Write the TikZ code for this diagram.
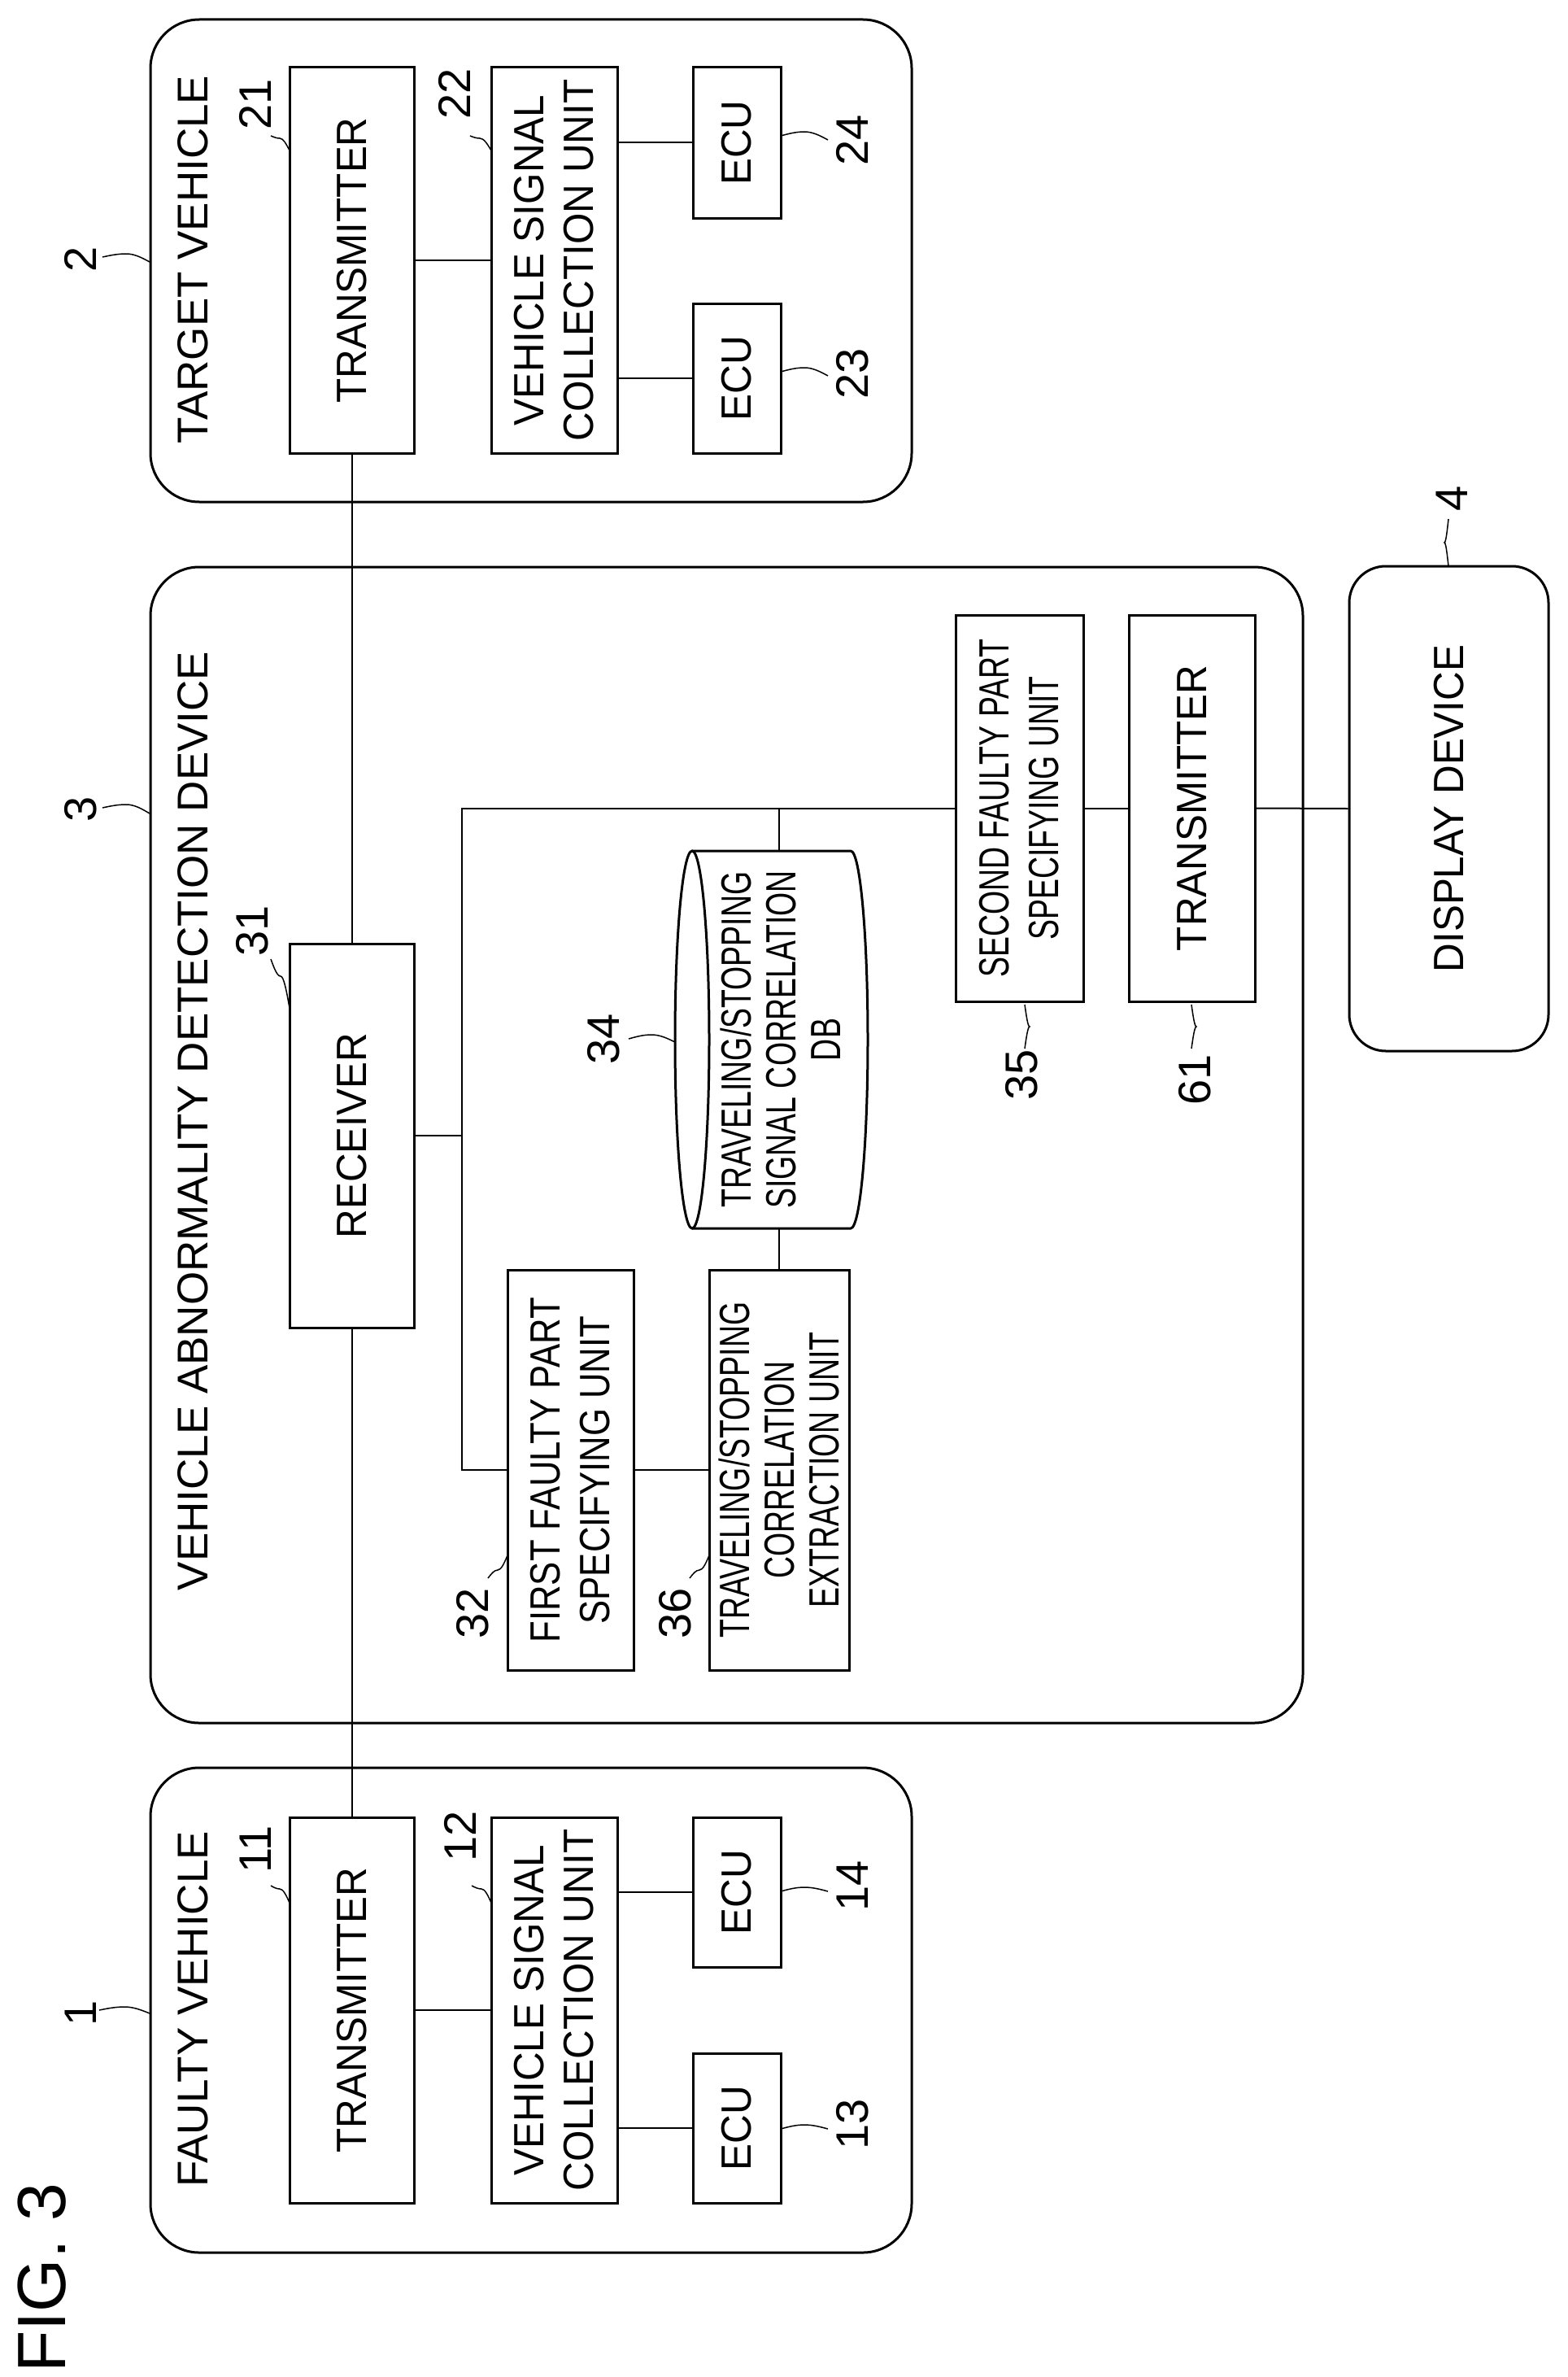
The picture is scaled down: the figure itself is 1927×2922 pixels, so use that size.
\documentclass[tikz,border=0pt]{standalone}
\usepackage{fontspec}
\setmainfont{Liberation Sans}
\newfontfamily\fA[FakeStretch=0.95]{Liberation Sans}
\newfontfamily\fB[FakeStretch=0.84]{Liberation Sans}
\newfontfamily\fC[FakeStretch=0.72]{Liberation Sans}
\begin{document}
\begin{tikzpicture}[x=1pt,y=-1pt,
  box/.style={draw,line width=3pt,rotate=90,align=center,inner sep=0pt,font=\fontsize{52}{61}\fA},
  outer/.style={draw,line width=3pt,rounded corners=60pt,inner sep=0pt},
  lbl/.style={rotate=90,inner sep=0pt,font=\fontsize{53}{60}\selectfont},
  num/.style={rotate=90,inner sep=0pt,font=\fontsize{56}{60}\selectfont},
  ln/.style={line width=2pt},
  ld/.style={line width=1.5pt}]
\useasboundingbox (0,0) rectangle (1927,2922);
% outer boxes
\node[outer,minimum width=936pt,minimum height=593pt] (tv) at (653,320.5) {};
\node[outer,minimum width=1417pt,minimum height=1421pt] (dev) at (893.5,1407.5) {};
\node[outer,minimum width=936pt,minimum height=596pt] (fv) at (653,2471) {};
\node[box,rounded corners=45pt,minimum width=596pt,minimum height=245pt] (disp) at (1781.5,994) {DISPLAY DEVICE};
% outer labels
\node[lbl] (ltv) at (237,319) {TARGET VEHICLE};
\node[lbl] (ldev) at (237,1378) {VEHICLE ABNORMALITY DETECTION DEVICE};
\node[lbl] (lfv) at (237,2470) {FAULTY VEHICLE};
\node[rotate=90,inner sep=0pt,font=\fontsize{84}{90}\selectfont] (fig) at (52,2800) {FIG. 3};
% target vehicle
\node[box,minimum width=474pt,minimum height=153pt] (t21) at (432.5,320) {TRANSMITTER};
\node[box,minimum width=474pt,minimum height=155pt] (v22) at (681.5,320) {VEHICLE SIGNAL\\COLLECTION UNIT};
\node[box,minimum width=185pt,minimum height=108pt] (e24) at (906,175.5) {ECU};
\node[box,minimum width=184pt,minimum height=108pt] (e23) at (906,465) {ECU};
% faulty vehicle
\node[box,minimum width=474pt,minimum height=153pt] (t11) at (432.5,2471) {TRANSMITTER};
\node[box,minimum width=474pt,minimum height=155pt] (v12) at (681.5,2471) {VEHICLE SIGNAL\\COLLECTION UNIT};
\node[box,minimum width=184pt,minimum height=108pt] (e14) at (906,2326) {ECU};
\node[box,minimum width=184pt,minimum height=108pt] (e13) at (906,2616) {ECU};
% device
\node[box,minimum width=472pt,minimum height=153pt] (rcv) at (432.5,1396) {RECEIVER};
\node[box,minimum width=492pt,minimum height=155pt,font=\fontsize{52}{61}\fB] (f32) at (701.5,1807) {FIRST FAULTY PART\\SPECIFYING UNIT};
\node[box,minimum width=492pt,minimum height=172pt,font=\fontsize{52}{55}\fC] (e36) at (958,1807) {TRAVELING/STOPPING\\CORRELATION\\EXTRACTION UNIT};
\node[box,minimum width=475pt,minimum height=157pt,font=\fontsize{52}{61}\fC] (s35) at (1253.5,993.5) {SECOND FAULTY PART\\SPECIFYING UNIT};
\node[box,minimum width=475pt,minimum height=155pt] (t61) at (1465.5,993.5) {TRANSMITTER};
% database cylinder
\draw[line width=3pt] (851,1278) ellipse [x radius=21pt, y radius=232pt];
\draw[line width=3pt] (851,1046) -- (1046,1046) arc[start angle=90,end angle=-90,x radius=21pt,y radius=232pt] -- (851,1510);
\node[rotate=90,align=center,inner sep=0pt,font=\fontsize{52}{55}\fC] (db) at (960,1278) {TRAVELING/STOPPING\\SIGNAL CORRELATION\\DB};
\coordinate (dbT) at (958,1046);
\coordinate (dbB) at (958,1510);
% connectors
\coordinate (bT) at (568,993.5);
\coordinate (bB) at (568,1807);
\draw[ln] (t21.south) -- (v22.north);
\draw[ln] (v22.south |- e24) -- (e24.north);
\draw[ln] (v22.south |- e23) -- (e23.north);
\draw[ln] (t11.south) -- (v12.north);
\draw[ln] (v12.south |- e14) -- (e14.north);
\draw[ln] (v12.south |- e13) -- (e13.north);
\draw[ln] (t21.west) -- (rcv.east);
\draw[ln] (rcv.west) -- (t11.east);
\draw[ln] (rcv.south) -- (rcv.south -| bT);
\draw[ln] (s35.north) -- (bT) -- (bB) -- (f32.north);
\draw[ln] (f32.south) -- (e36.north);
\draw[ln] (dbT |- bT) -- (dbT);
\draw[ln] (dbB) -- (e36.east);
\draw[ln] (s35.south) -- (t61.north);
\draw[ln] (t61.south) -- (disp.north);
% reference numbers
\node[num] (n2) at (99,319) {2};
\node[num] (n21) at (314,128) {21};
\node[num] (n22) at (559,115) {22};
\node[num] (n24) at (1048,172) {24};
\node[num] (n23) at (1048,459) {23};
\node[num] (n3) at (99,995) {3};
\node[num] (n31) at (310,1144) {31};
\node[num] (n34) at (742,1277) {34};
\node[num] (n32) at (581,1983) {32};
\node[num] (n36) at (830,1983) {36};
\node[num] (n35) at (1256,1321) {35};
\node[num] (n61) at (1469,1327) {61};
\node[num] (n4) at (1785,613) {4};
\node[num] (n1) at (99,2475) {1};
\node[num] (n11) at (314,2273) {11};
\node[num] (n12) at (566,2257) {12};
\node[num] (n14) at (1048,2318) {14};
\node[num] (n13) at (1048,2611) {13};
% leaders
\draw[ld] (126,316) sin (155,312) cos (184,322);
\draw[ld] (333,167) sin (344,170) cos (356,185);
\draw[ld] (578,167) sin (590,170) cos (604,185);
\draw[ld] (960,167) sin (989,162) cos (1018,172);
\draw[ld] (960,457) sin (989,452) cos (1018,462);
\draw[ld] (126,993) sin (155,989) cos (184,1000);
\draw[ld] (333,1179) sin (345,1200) cos (356,1239);
\draw[ld] (773,1277) sin (801,1272) cos (830,1281);
\draw[ld] (600,1940) sin (612,1930) cos (624,1912);
\draw[ld] (848,1940) sin (860,1930) cos (872,1912);
\draw[ld] (1260,1289) sin (1266,1262) cos (1260,1235);
\draw[ld] (1465,1289) sin (1471,1262) cos (1465,1235);
\draw[ld] (1781,638) sin (1776,667) cos (1781,696);
\draw[ld] (122,2471) sin (153,2467) cos (184,2475);
\draw[ld] (333,2318) sin (344,2322) cos (356,2339);
\draw[ld] (580,2318) sin (592,2322) cos (604,2339);
\draw[ld] (960,2325) sin (989,2320) cos (1018,2325);
\draw[ld] (960,2617) sin (989,2612) cos (1018,2617);
\end{tikzpicture}
\end{document}
